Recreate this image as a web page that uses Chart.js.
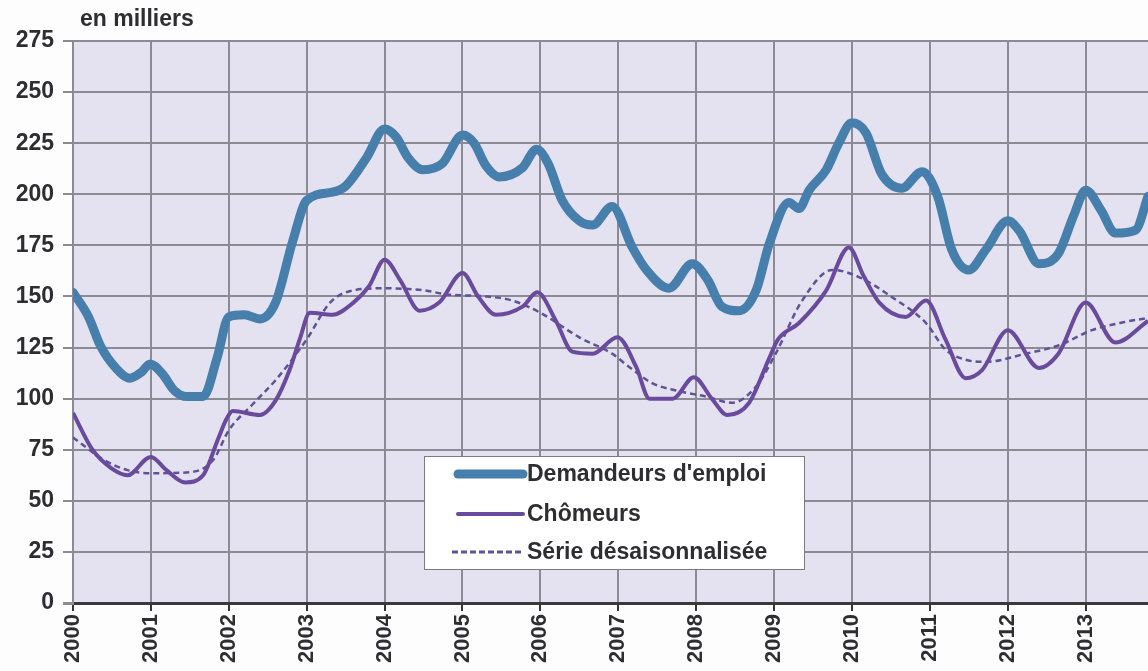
<!DOCTYPE html>
<html>
<head>
<meta charset="utf-8">
<script src="https://cdn.jsdelivr.net/npm/chart.js@4/dist/chart.umd.min.js"></script>
<style>
  body { margin: 0; background: #fdfdfe; }
</style>
</head>
<body>
<canvas id="empChart" width="1148" height="671"></canvas>
<script>
// values (x in decimal years, y in thousands)
var demandeursX = [2000.0, 2000.2, 2000.35, 2000.55, 2000.73, 2000.88, 2000.99, 2001.15, 2001.3, 2001.46, 2001.67, 2001.85,
    2002.0, 2002.2, 2002.4, 2002.6, 2002.82, 2003.0, 2003.33, 2003.5, 2003.77, 2004.0, 2004.15, 2004.3, 2004.49, 2004.74,
    2005.0, 2005.15, 2005.3, 2005.47, 2005.77, 2005.95, 2006.1, 2006.28, 2006.5, 2006.67, 2006.92, 2007.18, 2007.36,
    2007.65, 2007.95, 2008.15, 2008.33, 2008.55, 2008.77, 2008.94, 2009.19, 2009.32, 2009.45, 2009.67, 2009.83, 2010.0,
    2010.18, 2010.38, 2010.64, 2010.9, 2011.1, 2011.28, 2011.5, 2011.72, 2012.0, 2012.15, 2012.4, 2012.65, 2012.85,
    2013.0, 2013.2, 2013.38, 2013.64, 2013.8];
var demandeursY = [152, 140, 126, 115, 110, 113, 117, 112, 104, 101, 101, 120,
    140, 141, 139, 147, 177, 197, 201, 204, 218, 232, 228, 218, 212, 215,
    229, 225, 214, 208.5, 213, 222, 215, 197, 187, 185, 194, 174, 163,
    154, 166, 158, 145, 143, 153, 176, 196, 193, 202, 212, 225, 235,
    230, 210, 203, 211, 199, 173, 163, 173, 187, 182, 166, 171, 190,
    202, 192, 181, 182.5, 199];

var chomeursX = [2000.0, 2000.25, 2000.49, 2000.7, 2001.0, 2001.2, 2001.44, 2001.67, 2001.86, 2001.97, 2002.05, 2002.4,
    2002.6, 2002.78, 2002.91, 2003.04, 2003.33, 2003.6, 2003.8, 2004.0, 2004.2, 2004.45, 2004.7, 2005.0, 2005.2, 2005.43,
    2005.77, 2005.96, 2006.2, 2006.41, 2006.67, 2006.99, 2007.23, 2007.4, 2007.7, 2007.97, 2008.2, 2008.4, 2008.68,
    2008.94, 2009.05, 2009.32, 2009.67, 2009.96, 2010.15, 2010.35, 2010.69, 2010.95, 2011.2, 2011.46, 2011.67, 2012.0,
    2012.4, 2012.65, 2013.0, 2013.38, 2013.8];
var chomeursY = [93, 75, 66, 62.5, 71.5, 65, 59, 62.5, 80, 90, 94, 92,
    99, 114, 129, 142, 141, 147, 155, 168, 158, 143, 147, 161.5, 150, 141,
    145, 152, 138, 123, 122, 130, 115.5, 100, 100, 110.5, 100, 92, 98,
    120, 129, 137, 153, 174, 160, 147, 140, 148, 129, 110, 114, 133.5,
    115, 122, 147, 127.5, 138];

var desaisonX = [2000.0, 2000.4, 2000.7, 2001.0, 2001.5, 2001.8, 2002.0, 2002.3, 2002.6, 2003.0, 2003.3, 2003.6, 2004.0,
    2004.5, 2004.8, 2005.3, 2005.64, 2006.0, 2006.5, 2006.92, 2007.14, 2007.44, 2007.74, 2008.13, 2008.46, 2008.77,
    2009.02, 2009.36, 2009.75, 2010.09, 2010.5, 2010.95, 2011.2, 2011.46, 2011.72, 2012.23, 2012.65, 2013.08, 2013.5, 2013.8];
var desaisonY = [81, 70, 65, 63.5, 64, 70, 84.5, 97, 109, 129, 147, 153, 154,
    153, 151, 150, 148, 142, 130, 122, 115.5, 107.5, 104, 101, 98, 106,
    122, 148, 163, 159.5, 150, 137, 124, 119, 118, 122, 126, 133.5, 137.5, 139.5];

var yearTicks = [2000, 2001, 2002, 2003, 2004, 2005, 2006, 2007, 2008, 2009, 2010, 2011, 2012, 2013];
var seriesLabels = ['Demandeurs d\'emploi', 'Chômeurs', 'Série désaisonnalisée'];

function pts(xs, ys) {
    return xs.map(function (x, i) { return { x: x, y: ys[i] }; });
}

var gridGray = 'rgb(140,138,148)';
var textCol = '#2e2e32';
var boldFont = { family: 'Liberation Sans, Arial, sans-serif', size: 23, weight: 'bold' };

var extras = {
    id: 'extras',
    beforeDraw: function (chart) {
        var c = chart.ctx, a = chart.chartArea;
        c.save();
        c.fillStyle = 'rgb(228,226,240)';
        c.fillRect(a.left, a.top, a.right - a.left, a.bottom - a.top);
        c.restore();
    },
    afterDraw: function (chart) {
        var c = chart.ctx;
        c.save();
        c.font = 'bold 23px Liberation Sans, Arial, sans-serif';
        c.fillStyle = textCol;
        c.textBaseline = 'middle';
        c.fillText('en milliers', 80, 20);

        // legend box
        c.fillStyle = '#ffffff';
        c.fillRect(424, 456, 380, 113);
        c.strokeStyle = '#7a7a80';
        c.lineWidth = 1;
        c.strokeRect(424.5, 456.5, 380, 113);
        var rows = [474, 514, 552];
        chart.data.datasets.forEach(function (ds, i) {
            var dashed = !!ds.borderDash;
            c.beginPath();
            c.strokeStyle = ds.borderColor;
            c.lineWidth = dashed ? 3 : ds.borderWidth;
            c.lineCap = dashed ? 'butt' : 'round';
            c.setLineDash(dashed ? [6, 3] : []);
            c.moveTo(dashed ? 452 : 458, rows[i]);
            c.lineTo(523, rows[i]);
            c.stroke();
            c.setLineDash([]);
            c.fillStyle = textCol;
            c.fillText(ds.label, 527, rows[i] + 1);
        });
        c.restore();
    }
};

var ctx = document.getElementById('empChart').getContext('2d');
var myChart = new Chart(ctx, {
    type: 'line',
    data: {
        datasets: [{
            label: seriesLabels[0],
            data: pts(demandeursX, demandeursY),
            borderColor: 'rgb(70,126,172)',
            borderWidth: 9,
            cubicInterpolationMode: 'monotone',
            borderCapStyle: 'round',
            pointRadius: 0
        }, {
            label: seriesLabels[1],
            data: pts(chomeursX, chomeursY),
            borderColor: 'rgb(106,74,156)',
            borderWidth: 4,
            cubicInterpolationMode: 'monotone',
            pointRadius: 0
        }, {
            label: seriesLabels[2],
            data: pts(desaisonX, desaisonY),
            borderColor: 'rgb(96,82,150)',
            borderWidth: 2.5,
            borderDash: [6, 4],
            cubicInterpolationMode: 'monotone',
            pointRadius: 0
        }]
    },
    options: {
        responsive: false,
        animation: false,
        layout: { padding: { top: 41, right: 0, left: 0, bottom: 0 } },
        plugins: { legend: { display: false }, tooltip: { enabled: false } },
        scales: {
            x: {
                type: 'linear',
                min: 2000,
                max: 2013.8,
                afterBuildTicks: function (s) {
                    s.ticks = yearTicks.map(function (v) { return { value: v }; });
                },
                afterFit: function (s) { s.height = 68; },
                grid: { color: gridGray, lineWidth: 2, tickColor: '#333', tickLength: 8 },
                border: { color: '#3a3a3e', width: 3 },
                ticks: {
                    minRotation: 90, maxRotation: 90,
                    padding: 3,
                    color: textCol,
                    font: { family: 'Liberation Sans, Arial, sans-serif', size: 22, weight: 'bold' },
                    callback: function (v) { return String(v); }
                }
            },
            y: {
                min: 0,
                max: 275,
                afterFit: function (s) { s.width = 73; },
                grid: {
                    color: function (c) { return c.tick && c.tick.value === 0 ? '#3a3a3e' : gridGray; },
                    lineWidth: function (c) { return c.tick && c.tick.value === 0 ? 3 : 2; },
                    tickColor: gridGray,
                    tickLength: 10
                },
                border: { color: gridGray, width: 2 },
                ticks: { stepSize: 25, padding: 9, color: textCol, font: boldFont }
            }
        }
    },
    plugins: [extras]
});
</script>
</body>
</html>
